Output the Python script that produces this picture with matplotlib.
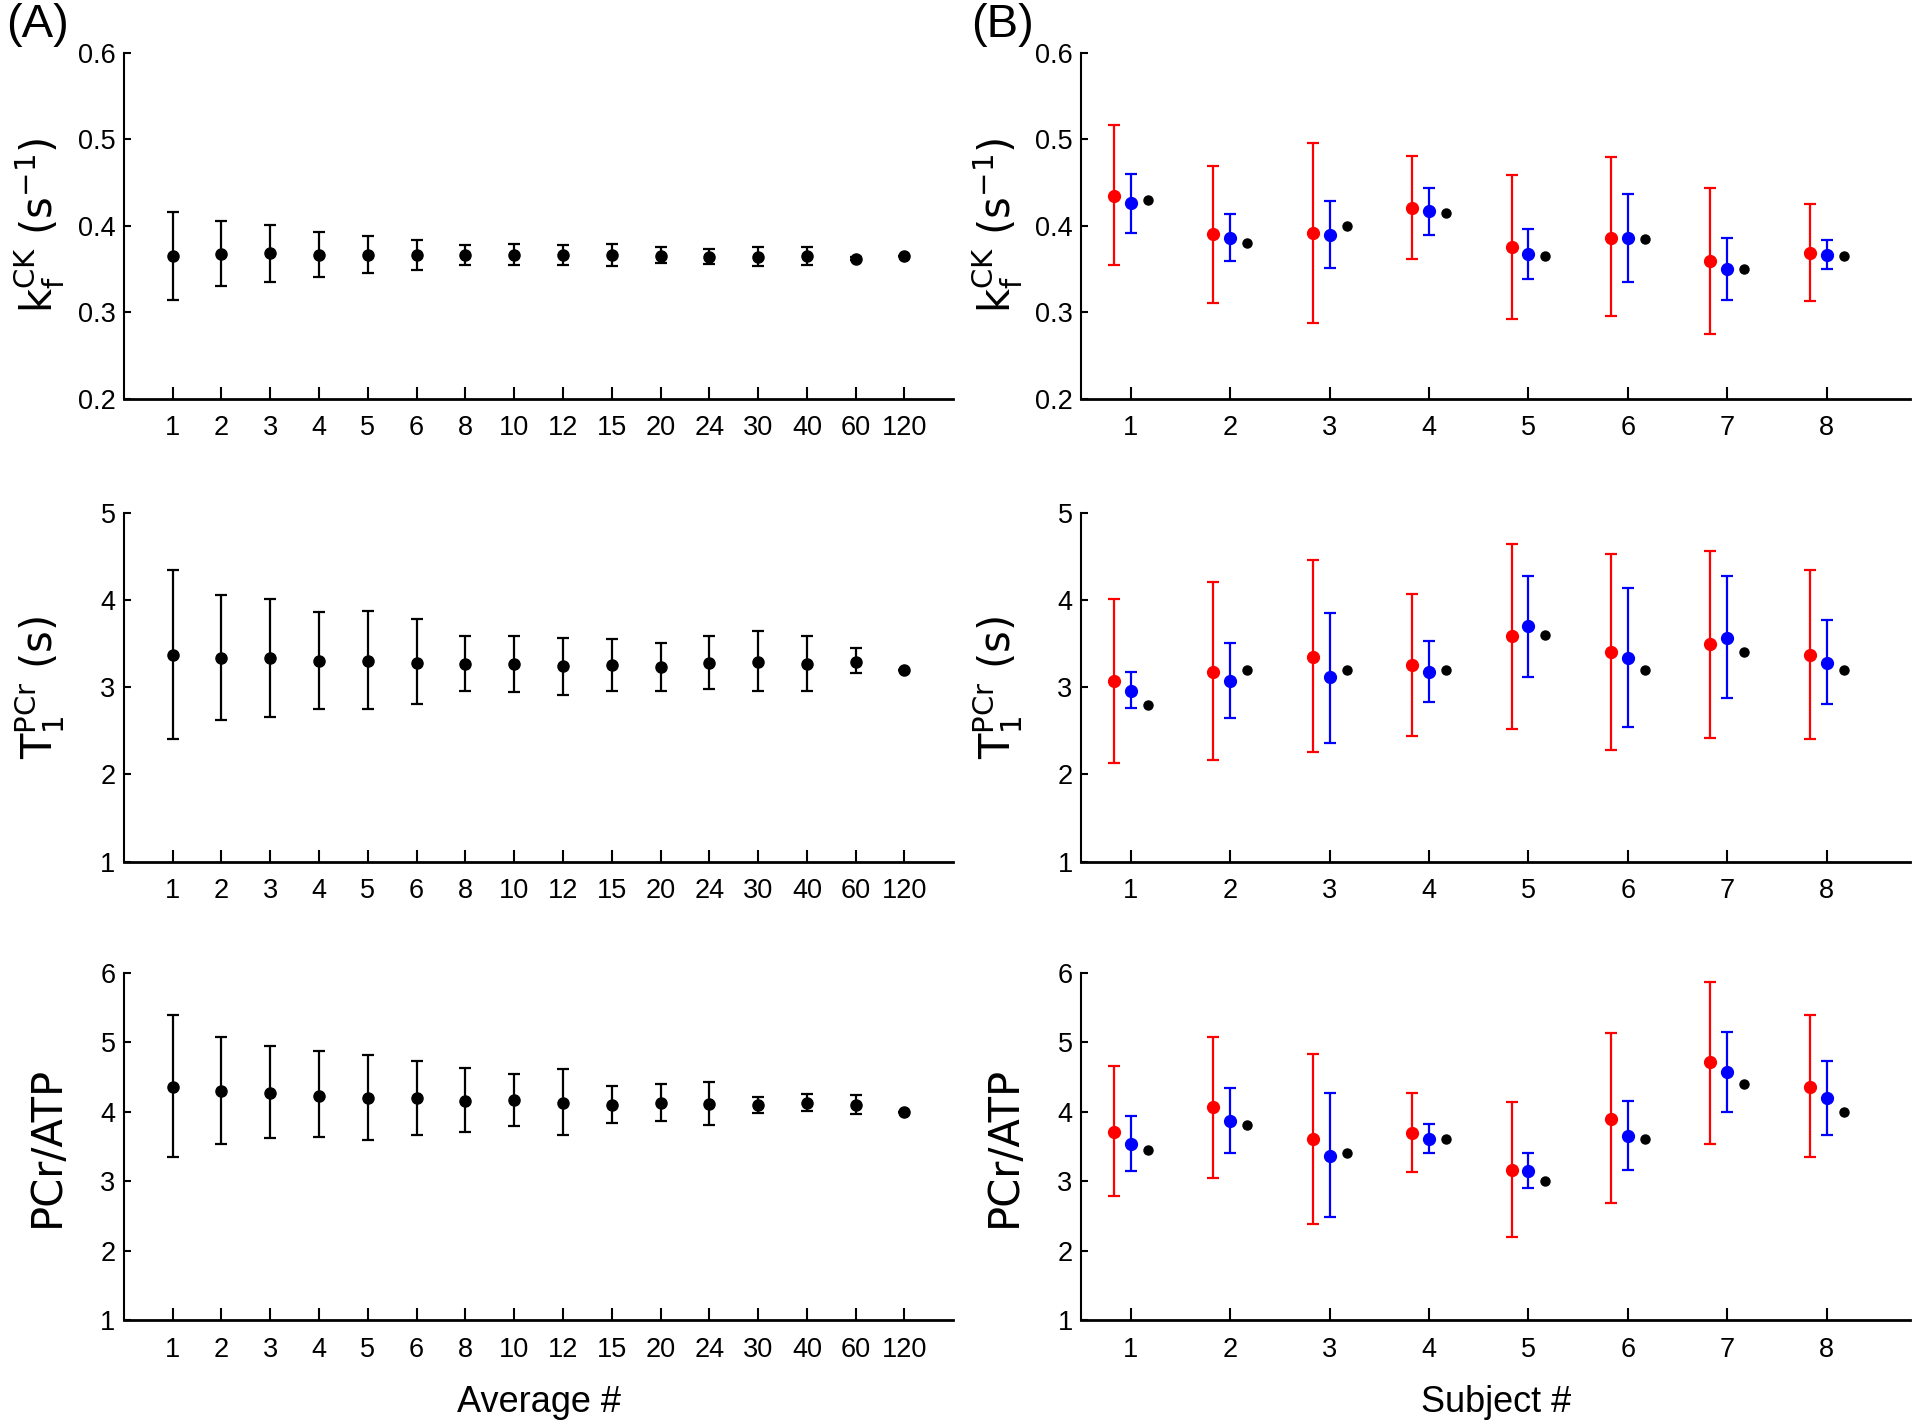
import numpy as np
import matplotlib
matplotlib.use("Agg")
import matplotlib.pyplot as plt

# ---- data: left column (A), mean with lower / upper bounds vs number of averages
avg_labels = ["1", "2", "3", "4", "5", "6", "8", "10", "12", "15", "20", "24", "30", "40", "60", "120"]

kf_avg = [0.365, 0.367, 0.368, 0.366, 0.366, 0.366, 0.366, 0.366, 0.366, 0.366, 0.3655, 0.364, 0.364, 0.365, 0.362, 0.365]
kf_avg_lo = [0.314, 0.330, 0.335, 0.341, 0.345, 0.349, 0.354, 0.354, 0.354, 0.353, 0.357, 0.356, 0.353, 0.355, 0.360, 0.365]
kf_avg_hi = [0.416, 0.405, 0.401, 0.393, 0.388, 0.383, 0.378, 0.379, 0.378, 0.379, 0.375, 0.373, 0.375, 0.375, 0.364, 0.365]

t1_avg = [3.37, 3.33, 3.33, 3.30, 3.30, 3.28, 3.27, 3.27, 3.24, 3.25, 3.23, 3.28, 3.29, 3.27, 3.29, 3.20]
t1_avg_lo = [2.41, 2.62, 2.66, 2.75, 2.75, 2.81, 2.96, 2.94, 2.91, 2.95, 2.96, 2.98, 2.95, 2.96, 3.16, 3.20]
t1_avg_hi = [4.34, 4.06, 4.01, 3.86, 3.87, 3.78, 3.58, 3.59, 3.56, 3.55, 3.50, 3.58, 3.64, 3.58, 3.45, 3.20]

pcr_avg = [4.35, 4.30, 4.27, 4.23, 4.19, 4.19, 4.15, 4.16, 4.13, 4.09, 4.13, 4.11, 4.09, 4.12, 4.09, 4.00]
pcr_avg_lo = [3.34, 3.53, 3.62, 3.63, 3.59, 3.66, 3.70, 3.79, 3.67, 3.84, 3.86, 3.81, 3.98, 4.01, 3.96, 4.00]
pcr_avg_hi = [5.39, 5.08, 4.94, 4.87, 4.81, 4.73, 4.62, 4.54, 4.61, 4.37, 4.40, 4.42, 4.21, 4.25, 4.24, 4.00]

# ---- data: right column (B), per subject: red / blue (mean, lo, hi) and black reference
subjects = [1, 2, 3, 4, 5, 6, 7, 8]

kf_red = [0.434, 0.390, 0.391, 0.420, 0.375, 0.386, 0.359, 0.368]
kf_red_lo = [0.354, 0.311, 0.288, 0.361, 0.292, 0.296, 0.275, 0.313]
kf_red_hi = [0.516, 0.469, 0.496, 0.481, 0.459, 0.479, 0.444, 0.425]
kf_blue = [0.426, 0.386, 0.389, 0.417, 0.367, 0.386, 0.350, 0.366]
kf_blue_lo = [0.392, 0.359, 0.351, 0.389, 0.338, 0.335, 0.314, 0.350]
kf_blue_hi = [0.460, 0.413, 0.428, 0.444, 0.396, 0.437, 0.386, 0.383]
kf_ref = [0.430, 0.380, 0.400, 0.415, 0.365, 0.385, 0.350, 0.365]

t1_red = [3.07, 3.17, 3.35, 3.25, 3.58, 3.40, 3.49, 3.37]
t1_red_lo = [2.13, 2.16, 2.26, 2.44, 2.52, 2.28, 2.42, 2.41]
t1_red_hi = [4.01, 4.20, 4.46, 4.07, 4.64, 4.53, 4.56, 4.34]
t1_blue = [2.96, 3.07, 3.11, 3.17, 3.70, 3.33, 3.56, 3.28]
t1_blue_lo = [2.76, 2.64, 2.36, 2.83, 3.12, 2.54, 2.87, 2.81]
t1_blue_hi = [3.17, 3.50, 3.85, 3.53, 4.27, 4.14, 4.27, 3.77]
t1_ref = [2.8, 3.2, 3.2, 3.2, 3.6, 3.2, 3.4, 3.2]

pcr_red = [3.71, 4.06, 3.60, 3.69, 3.16, 3.89, 4.71, 4.35]
pcr_red_lo = [2.78, 3.05, 2.38, 3.13, 2.19, 2.68, 3.54, 3.34]
pcr_red_hi = [4.66, 5.07, 4.83, 4.27, 4.14, 5.13, 5.87, 5.39]
pcr_blue = [3.53, 3.87, 3.36, 3.60, 3.14, 3.65, 4.57, 4.19]
pcr_blue_lo = [3.14, 3.40, 2.48, 3.40, 2.90, 3.16, 4.00, 3.66]
pcr_blue_hi = [3.94, 4.34, 4.27, 3.82, 3.40, 4.15, 5.14, 4.73]
pcr_ref = [3.45, 3.8, 3.4, 3.6, 3.0, 3.6, 4.4, 4.0]

narrow = ["Liberation Sans Narrow", "Liberation Sans", "DejaVu Sans"]

fig = plt.figure(figsize=(19.2, 14.24), dpi=100)

left_x, right_x, w = 0.0645, 0.563, 0.432
rows = [(0.720, 0.243), (0.395, 0.245), (0.073, 0.244)]


def style_axis(ax, ylim, yticks, ylabel):
    ax.set_ylim(ylim)
    ax.set_yticks(yticks)
    ax.spines["top"].set_visible(False)
    ax.spines["right"].set_visible(False)
    ax.spines["left"].set_linewidth(1.5)
    ax.spines["bottom"].set_linewidth(2.0)
    ax.tick_params(axis="x", direction="in", length=9, width=1.5, pad=12)
    ax.tick_params(axis="y", direction="in", length=5, width=1.5, pad=6)
    for lab in ax.get_xticklabels() + ax.get_yticklabels():
        lab.set_family(narrow)
        lab.set_fontsize(19.5)
    ax.set_ylabel(ylabel, fontsize=30, family="DejaVu Sans")
    ax.yaxis.set_label_coords(-0.068, 0.5)


def errbar(ax, x, y, lo, hi, color, ms):
    y = np.array(y)
    yerr = [y - np.array(lo), np.array(hi) - y]
    ax.errorbar(x, y, yerr=yerr, fmt="o", color=color, ecolor=color, ms=ms,
                elinewidth=1.6, capsize=4, capthick=1.6, zorder=3)


panels = [
    ((kf_avg, kf_avg_lo, kf_avg_hi), (kf_red, kf_red_lo, kf_red_hi), (kf_blue, kf_blue_lo, kf_blue_hi), kf_ref,
     (0.2, 0.6), [0.2, 0.3, 0.4, 0.5, 0.6], r"k$_\mathregular{f}^\mathregular{CK}$ (s$^\mathregular{-1}$)"),
    ((t1_avg, t1_avg_lo, t1_avg_hi), (t1_red, t1_red_lo, t1_red_hi), (t1_blue, t1_blue_lo, t1_blue_hi), t1_ref,
     (1, 5), [1, 2, 3, 4, 5], r"T$_\mathregular{1}^\mathregular{PCr}$ (s)"),
    ((pcr_avg, pcr_avg_lo, pcr_avg_hi), (pcr_red, pcr_red_lo, pcr_red_hi), (pcr_blue, pcr_blue_lo, pcr_blue_hi), pcr_ref,
     (1, 6), [1, 2, 3, 4, 5, 6], "PCr/ATP"),
]

xa = np.arange(1, len(avg_labels) + 1)
xs = np.array(subjects, dtype=float)

for (bottom, h), (avg, red, blue, ref, ylim, yticks, ylabel) in zip(rows, panels):
    axl = fig.add_axes([left_x, bottom, w, h])
    errbar(axl, xa, *avg, "black", 8)
    axl.set_xlim(0, 17)
    axl.set_xticks(xa)
    axl.set_xticklabels(avg_labels)
    style_axis(axl, ylim, yticks, ylabel)

    axr = fig.add_axes([right_x, bottom, w, h])
    errbar(axr, xs - 0.17, *red, "#ff0000", 8.5)
    errbar(axr, xs, *blue, "#0000ff", 8.5)
    axr.plot(xs + 0.17, ref, "o", color="black", ms=6.5, zorder=3)
    axr.set_xlim(0.5, 8.84)
    axr.set_xticks(xs)
    axr.set_xticklabels([str(s) for s in subjects])
    style_axis(axr, ylim, yticks, ylabel)

    if bottom < 0.1:
        axl.set_xlabel("Average #", fontsize=26, family=narrow, labelpad=16)
        axr.set_xlabel("Subject #", fontsize=26, family=narrow, labelpad=16)

fig.text(0.003, 0.998, "(A)", fontsize=34, family=narrow, va="top", ha="left")
fig.text(0.506, 0.998, "(B)", fontsize=34, family=narrow, va="top", ha="left")

fig.savefig("out.png", dpi=100)
